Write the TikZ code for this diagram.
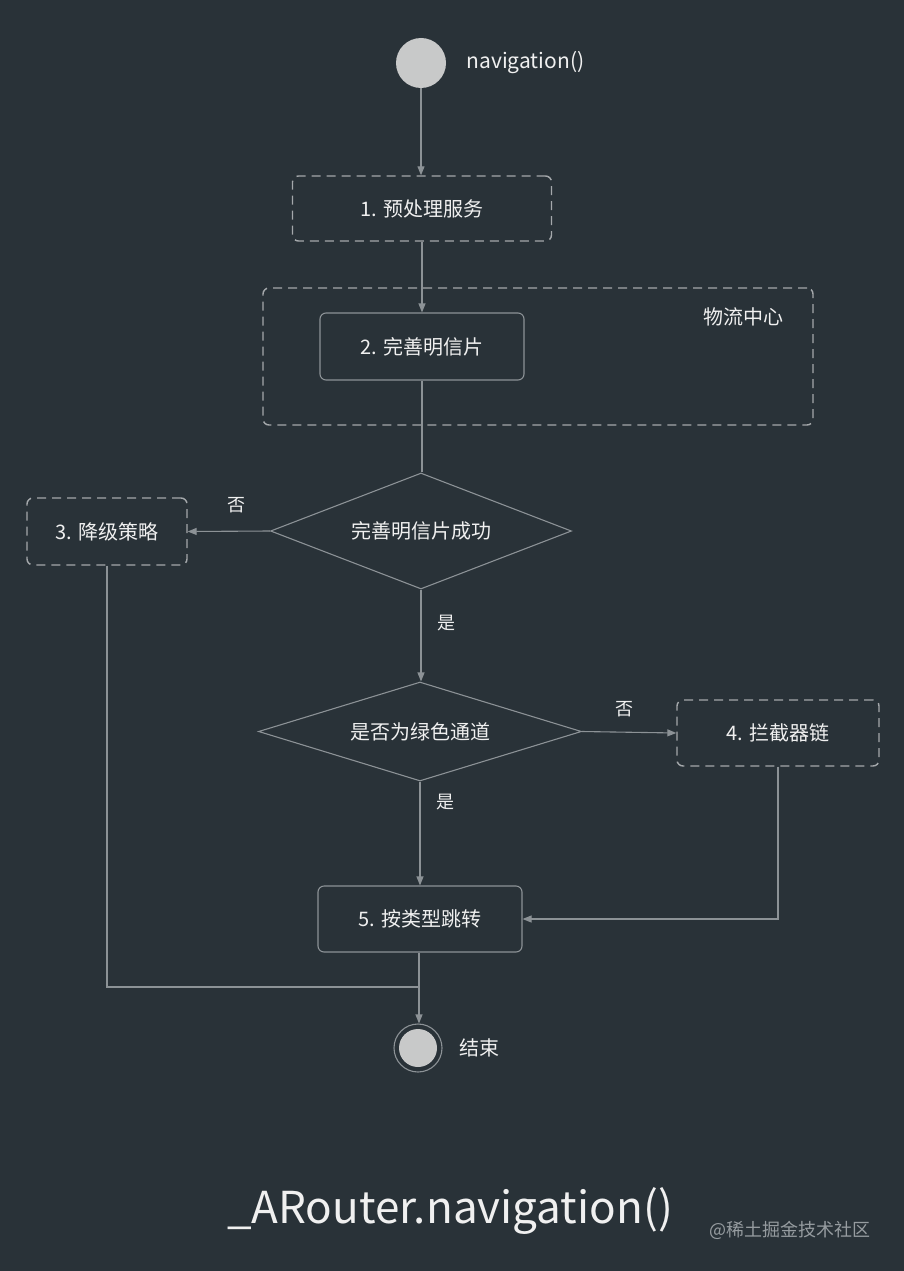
\documentclass[tikz,border=0pt]{standalone}
\usepackage{fontspec}
\setmainfont{Noto Sans CJK SC}
\usetikzlibrary{arrows.meta,shapes.geometric}
\definecolor{bgc}{RGB}{41,50,56}
\definecolor{linec}{RGB}{140,146,150}
\definecolor{dashc}{RGB}{164,168,171}
\definecolor{txtc}{RGB}{240,240,240}
\definecolor{dotc}{RGB}{200,201,201}
\definecolor{markc}{RGB}{150,156,160}
\begin{document}
\begin{tikzpicture}[x=1pt,y=-1pt,
  every node/.style={text=txtc,font=\fontsize{20}{24}\selectfont},
  solidbox/.style={draw=linec,line width=1.1pt,rounded corners=6pt,inner sep=0pt},
  dashbox/.style={draw=dashc,line width=1.4pt,dash pattern=on 9pt off 6pt,rounded corners=6pt,inner sep=0pt},
  decision/.style={draw=linec,line width=1.1pt,diamond,aspect=2.6,inner sep=0pt},
  flow/.style={draw=linec,line width=1.1pt,-{Triangle[length=9pt,width=7pt]}},
  plain/.style={draw=linec,line width=1.1pt},
  branch/.style={text=txtc,font=\fontsize{18}{21}\selectfont}
]
% canvas
\fill[bgc] (0,0) rectangle (904,1271);
\useasboundingbox (0,0) rectangle (904,1271);

% start point
\node[circle,fill=dotc,minimum size=50pt,inner sep=0pt] (start) at (421,63) {};
\node[anchor=west,font=\fontsize{21}{25}\selectfont] (startlbl) at (463,63) {navigation()};

% step 1
\node[dashbox,minimum width=259pt,minimum height=65pt] (b1) at (422,208.5) {1. 预处理服务};

% logistics group
\node[dashbox,minimum width=550pt,minimum height=137pt] (grp) at (538,356.5) {};
\node (grplbl) at (743,317) {物流中心};

% step 2
\node[solidbox,minimum width=204pt,minimum height=67pt] (b2) at (422,346.5) {2. 完善明信片};

% decision 1
\node[decision,minimum width=301pt,minimum height=116pt] (d1) at (421,531) {完善明信片成功};

% step 3
\node[dashbox,minimum width=160pt,minimum height=67pt] (b3) at (107,531.5) {3. 降级策略};

% decision 2
\node[decision,minimum width=323pt,minimum height=99pt] (d2) at (420,731.5) {是否为绿色通道};

% step 4
\node[dashbox,minimum width=202pt,minimum height=66pt] (b4) at (778,733) {4. 拦截器链};

% step 5
\node[solidbox,minimum width=204pt,minimum height=66pt] (b5) at (420,919) {5. 按类型跳转};

% end point
\node[circle,draw=linec,line width=1.1pt,minimum size=48pt,inner sep=0pt] (finish) at (418,1048) {};
\node[circle,fill=dotc,minimum size=38pt,inner sep=0pt] (finishdot) at (418,1048) {};
\node[anchor=west] (finishlbl) at (456,1048) {结束};

% connectors
\draw[flow] (start.south) -- (start.south |- b1.north);
\draw[flow] (b1.south) -- (b1.south |- b2.north);
\draw[plain] (b2.south) -- (b2.south |- d1.north);
\draw[flow] (d1.west) -- (b3.east);
\node[branch] (no1) at (236,505) {否};
\draw[flow] (d1.south) -- (d1.south |- d2.north);
\node[branch] (yes1) at (446,623) {是};
\draw[flow] (d2.east) -- (b4.west);
\node[branch] (no2) at (624,709) {否};
\draw[flow] (d2.south) -- (d2.south |- b5.north);
\node[branch] (yes2) at (445,802) {是};
\draw[flow] (b4.south) |- (b5.east);
\coordinate (join) at (419,987);
\draw[plain] (b3.south) |- (join);
\draw[flow] (b5.south -| join) -- (join |- finish.north);

% title and credit
\node (title) at (450,1211) {\fontsize{44}{50}\selectfont \_ARouter.navigation()};
\node[text=markc,anchor=east] (credit) at (874,1230) {\fontsize{18}{21}\selectfont @稀土掘金技术社区};
\end{tikzpicture}
\end{document}
